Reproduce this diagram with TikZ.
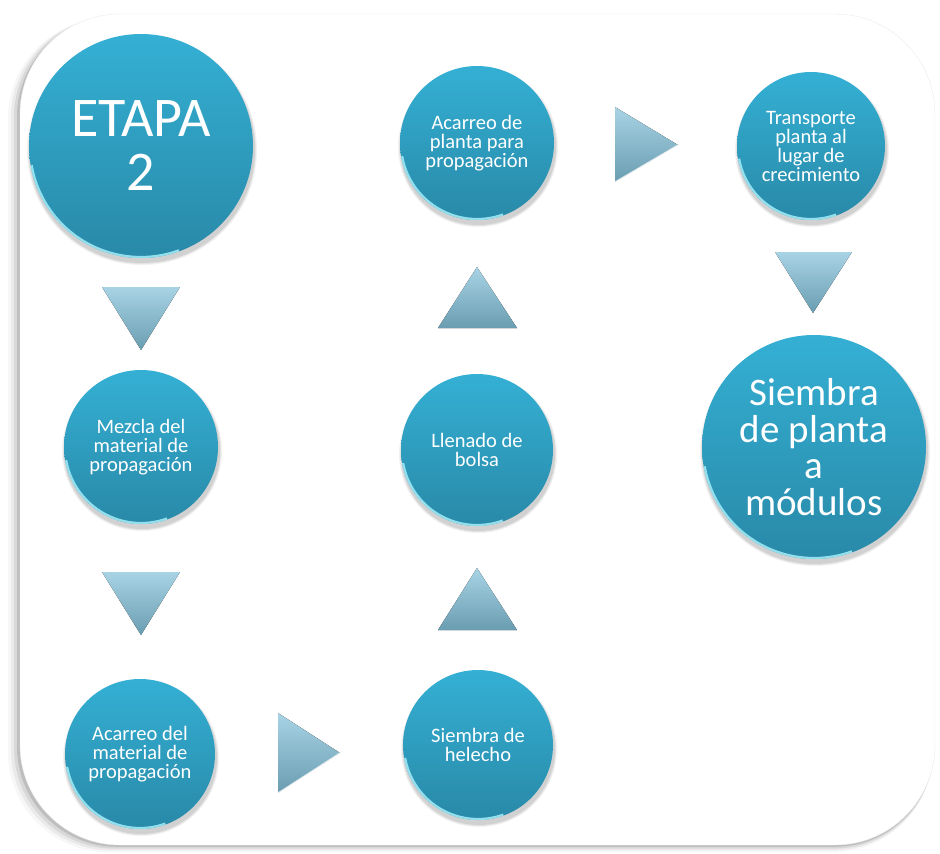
\documentclass[tikz,border=0pt]{standalone}
\usepackage{fontspec}
\setmainfont{Carlito}
\usetikzlibrary{calc}
\definecolor{ctop}{HTML}{34B0D4}
\definecolor{cbot}{HTML}{2989A8}
\definecolor{rim}{HTML}{A5EEFA}
\definecolor{ttop}{HTML}{A8D3E5}
\definecolor{tbot}{HTML}{6A9DB1}
\tikzset{
  stage/.style={circle, inner sep=0pt, text=white, align=center,
    top color=ctop, bottom color=cbot},
  small/.style={font=\fontsize{20.5}{19}\selectfont},
  big/.style={font=\fontsize{39}{36.5}\selectfont},
  huge/.style={font=\fontsize{56}{54}\selectfont},
  tri/.style={top color=ttop, bottom color=tbot},
  trihl/.style={draw=white, line width=1.2pt, opacity=.8},
}
\newcommand\stagenode[6]{% name, x, y, r, style, text
  \foreach \k/\o in {6/0.05,4/0.06,2/0.08}{
    \fill[black, opacity=\o] (#2+1,-#3-4) circle[radius=#4+\k*0.5];
  }
  \node[stage, #5, minimum size=2*#4pt] (#1) at (#2,-#3) {#6};
  \draw[rim, line width=2.2pt, opacity=.85]
    ($(#1.center)+(190:#4-1)$) arc[start angle=190, end angle=290, radius=#4-1];
}
\begin{document}
\begin{tikzpicture}[x=1pt,y=1pt]
\useasboundingbox (0,0) rectangle (940,-854);
% frame with shadow
\foreach \k/\o in {12/0.03,9/0.05,6/0.08,3/0.12}{
  \fill[black, opacity=\o, rounded corners=100] (20-\k,-16-\k*0.2) rectangle (935-\k*0.2,-845-\k*0.6);
}
\fill[white, rounded corners=100] (20,-14) rectangle (935,-845);
\draw[black!8, rounded corners=100] (20,-14) rectangle (935,-845);

% stages
\stagenode{e2}{141}{146}{112}{huge}{ETAPA\\2}
\stagenode{mez}{141}{447}{77}{small}{Mezcla del\\material de\\propagación}
\stagenode{acm}{140}{754}{75}{small}{Acarreo del\\material de\\propagación}
\stagenode{sh}{478}{745}{75}{small}{Siembra de\\helecho}
\stagenode{lb}{477}{450}{76}{small}{Llenado de\\bolsa}
\stagenode{ap}{477}{143}{77}{small}{Acarreo de\\planta para\\propagación}
\stagenode{tp}{811}{146}{74}{small}{Transporte\\planta al\\lugar de\\crecimiento}
\stagenode{sp}{814}{447}{112}{big}{Siembra\\de planta\\a\\módulos}

% arrow triangles
\fill[tri] (102,-287) -- (180,-287) -- (141,-350) -- cycle;
\fill[tri] (102,-572) -- (180,-572) -- (141,-635) -- cycle;
\fill[tri] (278,-713) -- (340,-753) -- (278,-793) -- cycle;
\draw[trihl] (278,-793) -- (340,-753);
\fill[tri] (438,-630) -- (517,-630) -- (477,-568) -- cycle;
\fill[tri] (438,-328) -- (517,-328) -- (477,-267) -- cycle;
\fill[tri] (615,-107) -- (678,-145) -- (615,-182) -- cycle;
\draw[trihl] (615,-182) -- (678,-145);
\fill[tri] (775,-252) -- (852,-252) -- (813,-313) -- cycle;
\end{tikzpicture}
\end{document}
